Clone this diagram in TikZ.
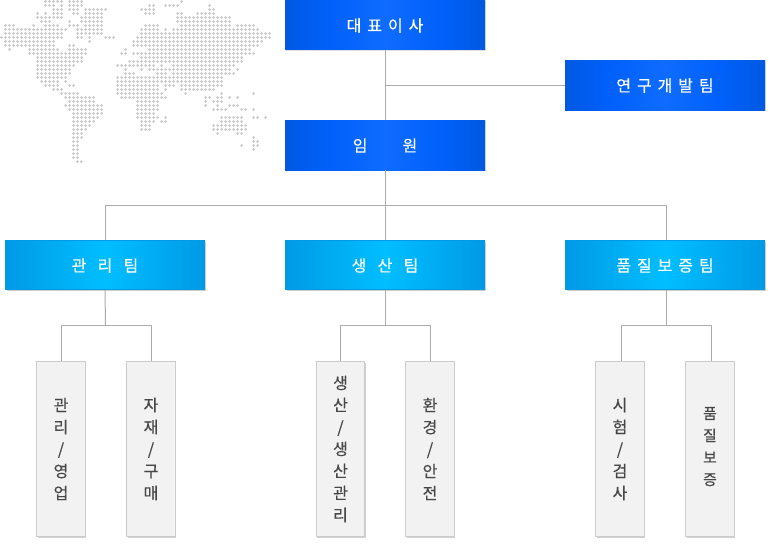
\documentclass[tikz,border=0pt]{standalone}
\usepackage{fontspec}
\setmainfont[FakeBold=0.35]{Noto Sans CJK KR}
\usepackage{xcolor}
\usetikzlibrary{shadows}
\definecolor{topedge}{HTML}{0059E2}
\definecolor{topquart}{HTML}{0060FA}
\definecolor{topmid}{HTML}{0F6CFF}
\definecolor{teamedge}{HTML}{009AE6}
\definecolor{teammid}{HTML}{00BEFF}
\definecolor{wire}{HTML}{ABABAB}
\definecolor{dotgray}{HTML}{CACACA}
\pgfdeclarehorizontalshading{topshade}{100bp}{color(0bp)=(topedge); color(25bp)=(topedge);
  color(36bp)=(topquart); color(50bp)=(topmid); color(64bp)=(topquart);
  color(75bp)=(topedge); color(100bp)=(topedge)}
\tikzset{
  topbox/.style={minimum width=200pt, minimum height=50pt, inner sep=0pt,
    shading=topshade, text=white, text height=15pt, text depth=2pt,
    font=\fontsize{16}{18}\selectfont,
    drop shadow={shadow xshift=1pt, shadow yshift=-1pt, opacity=.12, fill=black}},
  teambox/.style={minimum width=199.4pt, minimum height=49.4pt, inner sep=0pt,
    left color=teamedge, right color=teamedge, middle color=teammid, text=white,
    text height=15pt, text depth=2pt, font=\fontsize{16}{18}\selectfont,
    draw=teamedge, line width=.6pt,
    drop shadow={shadow xshift=1.2pt, shadow yshift=-1.2pt, opacity=.2, fill=black}},
  subbox/.style={minimum width=48.5pt, minimum height=175.5pt, inner sep=0pt, align=center,
    fill=black!5, draw=black!20, line width=.8pt, text=black!72,
    font=\fontsize{16}{22}\selectfont,
    drop shadow={shadow xshift=1pt, shadow yshift=-1.5pt, opacity=.18, fill=black}},
  wireline/.style={draw=wire, line width=1pt}
}
\begin{document}
\begin{tikzpicture}[x=1pt, y=-1pt]
  \useasboundingbox (0,0) rectangle (770,551);

  % world map, one row of dots per entry
  \foreach \row/\runs in {
    0/{11/15,17/20,45/45},
    1/{11/13,15/15,17/20,37/38,41/44,52/52},
    2/{13/15,17/19,21/26,35/38,52/53},
    3/{9/9,11/11,13/15,18/19,21/25,36/38,44/45,49/53},
    4/{9/12,13/15,20/25,44/45,46/47,48/57},
    5/{10/12,17/17,20/25,44/44,45/57},
    6/{1/3,8/8,11/13,14/14,17/19,21/25,36/39,45/57,59/63},
    7/{1/16,19/20,21/25,35/39,41/41,43/64},
    8/{1/15,19/20,21/25,35/41,42/67},
    9/{0/15,19/20,22/22,26/28,34/67},
    10/{1/13,22/22,33/36,37/65},
    11/{1/13,17/18,33/36,37/64},
    12/{2/2,7/14,17/21,31/31,37/62},
    13/{7/15,16/21,30/31,33/61,62/63},
    14/{9/20,35/60},
    15/{9/20,32/60},
    16/{9/18,29/38,40/40,43/58},
    17/{9/17,31/31,35/35,37/40,41/57,59/59},
    18/{9/17,31/33,39/41,43/57,58/58},
    19/{9/16,29/42,43/55},
    20/{10/14,16/16,29/42,43/55},
    21/{11/14,17/18,29/39,41/41,42/43,45/55},
    22/{13/14,15/15,29/39,41/41,45/49,50/53},
    23/{15/16,17/19,29/40,46/46,55/55,63/63},
    24/{16/23,30/41,51/52,54/55,57/57,59/59},
    25/{17/23,34/39,51/51,53/55},
    26/{16/25,34/39,51/51,54/54,57/59},
    27/{17/25,34/39,53/54,55/56,60/61,63/63},
    28/{18/25,34/38},
    29/{18/24,34/39,41/41,55/60,63/64,66/66},
    30/{18/23,35/38,40/41,55/60},
    31/{18/22,35/37,53/61},
    32/{18/21,35/37,53/61},
    33/{18/20,54/54,59/60},
    34/{18/20,63/63},
    35/{18/19,63/64},
    36/{18/19,60/60,63/64},
    37/{18/19,63/63},
    38/{18/19},
    39/{18/19},
    40/{19/20}}
    \foreach \ca/\cb in \runs
      \foreach \col in {\ca,...,\cb}
        \fill[dotgray] ({1.5+4*\col},{1.5+4*\row}) circle (1.5pt);

  \coordinate (J1) at (385.5,85);
  \coordinate (J2) at (385.5,205.5);
  \coordinate (J3) at (666.5,205.5);
  \coordinate (J4) at (105.5,325.5);
  \coordinate (J5) at (385.5,325.5);
  \coordinate (J6) at (666.5,325.5);

  \node[topbox] (CEO) at (385,25) {\addfontfeature{LetterSpace=37}대표이사};
  \node[topbox] (RD) at (665,85) {\addfontfeature{LetterSpace=37}연구개발팀};
  \node[topbox] (EXE) at (385,145) {임\hspace{35pt}원};

  \node[teambox] (ADM) at (105,265) {\addfontfeature{LetterSpace=70}관리팀};
  \node[teambox] (PRD) at (385,265) {\addfontfeature{LetterSpace=70}생산팀};
  \node[teambox] (QAT) at (665,265) {\addfontfeature{LetterSpace=37}품질보증팀};

  \node[subbox] (A1) at (61,449) {관\\리\\/\\영\\업};
  \node[subbox] (A2) at (151,449) {자\\재\\/\\구\\매};
  \node[subbox] (P1) at (340.5,449) {생\\산\\/\\생\\산\\관\\리};
  \node[subbox] (P2) at (430,449) {환\\경\\/\\안\\전};
  \node[subbox] (Q1) at (620,449) {시\\험\\/\\검\\사};
  \node[subbox, font=\fontsize{15}{22}\selectfont] (Q2) at (710,449) {품\\질\\보\\증\\[-16pt]\mbox{}};

  \draw[wireline] (J1 |- CEO.south) -- (J1 |- EXE.north);
  \draw[wireline] (J1 |- EXE.south) -- (J2);
  \draw[wireline] (J2) -- (J2 |- PRD.north);
  \draw[wireline] (RD.west) -- (J1);
  \draw[wireline] (J2) -| (ADM.north);
  \draw[wireline] (J2) -- (J3) -- (J3 |- QAT.north);
  \draw[wireline] (ADM.south) -- (J4);
  \draw[wireline] (J5 |- PRD.south) -- (J5);
  \draw[wireline] (J6 |- QAT.south) -- (J6);
  \draw[wireline] (J4) -| (A1.north);
  \draw[wireline] (J4) -| (A2.north);
  \draw[wireline] (J5) -| (P1.north);
  \draw[wireline] (J5) -| (P2.north);
  \draw[wireline] (J6) -| ([xshift=1.3pt]Q1.north);
  \draw[wireline] (J6) -| ([xshift=1.3pt]Q2.north);
\end{tikzpicture}
\end{document}
